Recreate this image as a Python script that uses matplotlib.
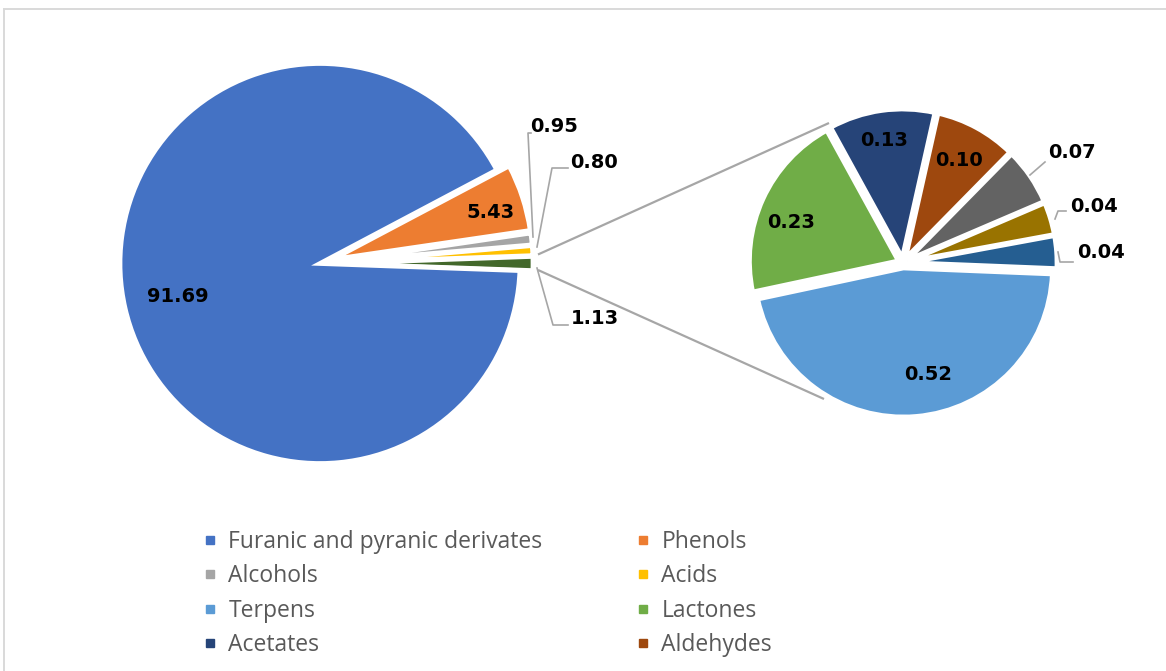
import matplotlib
matplotlib.use("Agg")
import matplotlib.pyplot as plt
from matplotlib.lines import Line2D

# ---- data -------------------------------------------------------------
main_names = ["Furanic and pyranic derivates", "Phenols", "Alcohols", "Acids"]
main_values = [91.69, 5.43, 0.95, 0.80]
main_colors = ["#4472C4", "#ED7D31", "#A5A5A5", "#FFC000"]

# breakdown of the small remainder shown in the secondary pie
sub_names = ["Terpens", "Lactones", "Acetates", "Aldehydes"]
sub_values = [0.52, 0.23, 0.13, 0.10, 0.07, 0.04, 0.04]
sub_colors = ["#5B9BD5", "#70AD47", "#264478", "#9E480E",
              "#636363", "#997300", "#255E91"]
other_color = "#43682B"

# ---- canvas (data units = pixels, y measured upward) ------------------
W, H = 1166, 671
fig = plt.figure(figsize=(W / 100, H / 100), dpi=100)
ax = fig.add_axes([0, 0, 1, 1])


def P(px, py):
    return (px, H - py)


other_total = sum(sub_values)
grand_total = sum(main_values) + other_total

# frame around the chart area
ax.plot([3.5, 3.5], [0, H - 8.5], color="#D9D9D9", lw=1.4, zorder=0)
ax.plot([3.5, W], [H - 8.5, H - 8.5], color="#D9D9D9", lw=1.4, zorder=0)

# ---- main pie ------------------------------------------------------------
main_center = P(320, 263.5)
main_r = 200
order_vals = [other_total, main_values[3], main_values[2], main_values[1], main_values[0]]
order_cols = [other_color, main_colors[3], main_colors[2], main_colors[1], main_colors[0]]
start = -other_total / grand_total * 180.0
ax.pie(order_vals, colors=order_cols, startangle=start, counterclock=True,
       radius=main_r, center=main_center, explode=[13, 13, 13, 13, 0],
       wedgeprops=dict(edgecolor="white", linewidth=3.4), frame=True)

# ---- secondary pie ---------------------------------------------------------
sub_center = P(903, 263)
sub_r = 149
ax.pie(sub_values, colors=sub_colors, startangle=-2.3, counterclock=False,
       radius=sub_r, center=sub_center, explode=[5] * len(sub_values),
       wedgeprops=dict(edgecolor="white", linewidth=3.4), frame=True)

# ---- connector lines between the pies ------------------------------------
conn = dict(color="#A6A6A6", lw=1.6, zorder=0.5, solid_capstyle="butt")
ax.plot([538, 829], [H - 254.5, H - 123], **conn)
ax.plot([538, 824], [H - 270, H - 399], **conn)

# ---- data labels -----------------------------------------------------------
lab = dict(fontsize=14, fontweight="bold", color="black",
           ha="center", va="center", family="DejaVu Sans", zorder=5)
lead = dict(color="#A6A6A6", lw=1.2, zorder=4)

# main pie labels
ax.text(*P(178, 297), f"{main_values[0]:.2f}", **lab)
ax.text(*P(490, 213), f"{main_values[1]:.2f}", **lab)
ax.text(*P(554, 126), f"{main_values[2]:.2f}", **lab)
ax.plot([533, 528, 531], [H - 237, H - 133, H - 133], **lead)
ax.text(*P(594, 162), f"{main_values[3]:.2f}", **lab)
ax.plot([537, 552, 568], [H - 247, H - 168, H - 168], **lead)
ax.text(*P(595, 318), f"{other_total:.2f}", **lab)
ax.plot([537, 553, 568], [H - 268, H - 325, H - 325], **lead)

# secondary pie labels
sub_label_pos = [(928, 375), (791, 222), (884, 140), (959, 160),
                 (1072, 153), (1094, 207), (1101, 253)]
for v, (px, py) in zip(sub_values, sub_label_pos):
    ax.text(*P(px, py), f"{v:.2f}", **lab)
ax.plot([1030, 1045], [H - 175, H - 162], **lead)
ax.plot([1055, 1058, 1066], [H - 219, H - 211, H - 211], **lead)
ax.plot([1058, 1060, 1073], [H - 252, H - 262, H - 262], **lead)

ax.set_xlim(0, W)
ax.set_ylim(0, H)
ax.set_aspect("equal")
ax.axis("off")

# ---- legend (two columns, row-major order) -------------------------------
names = main_names + sub_names
colors = main_colors + sub_colors[:4]
handles = [Line2D([], [], linestyle="none", marker="s", markersize=6,
                  markerfacecolor=c, markeredgecolor=c) for c in colors]

leg_kw = dict(frameon=False, handlelength=0.45, handletextpad=0.57,
              labelspacing=0.45, borderpad=0, borderaxespad=0,
              prop=dict(family="Open Sans", size=16.5), labelcolor="#595959",
              loc="upper left")
left_idx = [0, 2, 4, 6]
right_idx = [1, 3, 5, 7]
leg1 = fig.legend([handles[i] for i in left_idx], [names[i] for i in left_idx],
                  bbox_to_anchor=(205 / W, 1 - 530 / H), **leg_kw)
leg2 = fig.legend([handles[i] for i in right_idx], [names[i] for i in right_idx],
                  bbox_to_anchor=(638 / W, 1 - 530 / H), **leg_kw)

fig.savefig("out.png", dpi=100, facecolor="white")
